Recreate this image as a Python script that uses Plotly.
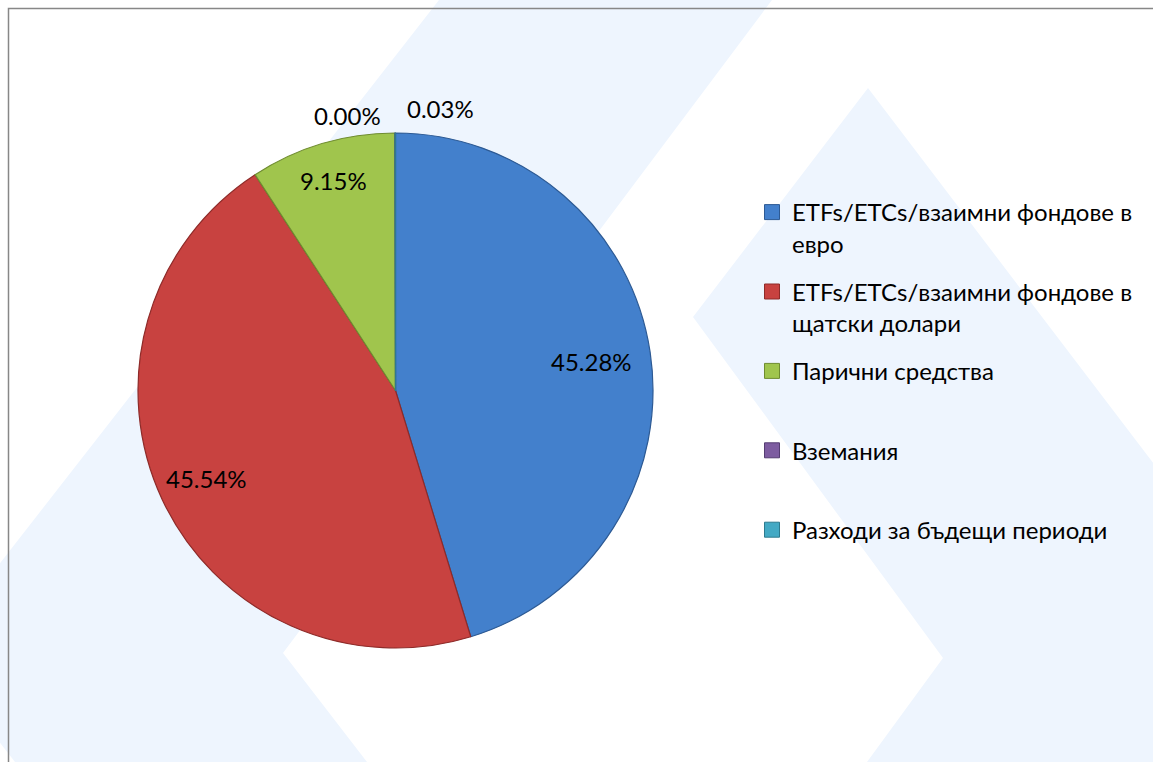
import math
import plotly.graph_objects as go

W, H = 1153, 762

# ---- data ----
categories = [
    "ETFs/ETCs/взаимни фондове в<br>евро",
    "ETFs/ETCs/взаимни фондове в<br>щатски долари",
    "Парични средства<br>&nbsp;",
    "Вземания<br>&nbsp;",
    "Разходи за бъдещи периоди<br>&nbsp;",
]
values = [45.28, 45.54, 9.15, 0.001, 0.03]  # percent of assets (Вземания ~0.00%)

# ---- style ----
colors = ["#4380CC", "#C84240", "#A0C54D", "#7D5CA0", "#43A9C4"]
line_colors = ["#2D5A94", "#8E2B29", "#6F8C30", "#553D72", "#2D7A8E"]
label_radius = [0.77, 0.81, 0.85, None, None]          # inside labels (fraction of radius)
outside_offset = {3: (-12, -18, "right"), 4: (10, -25, "left")}  # px offsets for tiny slices

FONT = "Lato"
FS = 24

# pie geometry in pixels
PX0, PX1, PY0, PY1 = 138, 653, 133, 648
cx, cy = (PX0 + PX1) / 2, (PY0 + PY1) / 2
R = (PX1 - PX0) / 2


def fx(px):
    return px / W


def fy(py):
    return 1 - py / H


fig = go.Figure()

fig.add_trace(go.Pie(
    labels=categories,
    values=values,
    sort=False,
    direction="clockwise",
    rotation=0,
    marker=dict(colors=colors, line=dict(color=line_colors, width=1.2)),
    textinfo="none",
    showlegend=False,
    hoverinfo="label+percent",
    domain=dict(x=[fx(PX0), fx(PX1)], y=[fy(PY1), fy(PY0)]),
))

# data labels, placed from the slice angles
total = sum(values)
cum = 0.0
annotations = []
for i, v in enumerate(values):
    mid = (cum + v / 2) / total * 2 * math.pi
    cum += v
    txt = f"{v / total * 100:.2f}%"
    if label_radius[i] is not None:
        k = label_radius[i]
        x = cx + k * R * math.sin(mid)
        y = cy - k * R * math.cos(mid)
        annotations.append(dict(x=fx(x), y=fy(y), xref="paper", yref="paper",
                                text=txt, showarrow=False, xanchor="center", yanchor="middle",
                                font=dict(family=FONT, size=FS, color="#000000")))
    else:
        dx, dy, anc = outside_offset[i]
        x = cx + R * math.sin(mid) + dx
        y = cy - R * math.cos(mid) + dy
        annotations.append(dict(x=fx(x), y=fy(y), xref="paper", yref="paper",
                                text=txt, showarrow=False, xanchor=anc, yanchor="middle",
                                font=dict(family=FONT, size=FS, color="#000000")))

# legend entries (one per category, square swatches)
for i, (name, c) in enumerate(zip(categories, colors)):
    fig.add_trace(go.Scatter(
        x=[None], y=[None], mode="markers", name=name,
        marker=dict(symbol="square", size=15, color=c,
                    line=dict(color=line_colors[i], width=1)),
        legendgroup=f"g{i}", showlegend=True, hoverinfo="skip",
    ))


# background watermark shapes and border
def path(pts):
    return "M " + " L ".join(f"{fx(x)},{fy(y)}" for x, y in pts) + " Z"


wm = "#EEF5FE"
shapes = [
    dict(type="path", xref="paper", yref="paper", layer="below",
         path=path([(439, 0), (772, 0), (283, 653), (367, 762), (15, 762), (-70, 653)]),
         fillcolor=wm, line=dict(width=0)),
    dict(type="path", xref="paper", yref="paper", layer="below",
         path=path([(868, 88), (1160, 472), (1160, 770), (867, 762), (943, 658), (693, 317)]),
         fillcolor=wm, line=dict(width=0)),
    dict(type="rect", xref="paper", yref="paper", layer="above",
         x0=fx(8.5), y0=fy(800), x1=fx(1200), y1=fy(8.5),
         line=dict(color="#878787", width=1.5), fillcolor="rgba(0,0,0,0)"),
]

fig.update_layout(
    width=W, height=H,
    margin=dict(l=0, r=0, t=0, b=0),
    paper_bgcolor="white", plot_bgcolor="rgba(0,0,0,0)",
    font=dict(family=FONT, size=FS, color="#000000"),
    xaxis=dict(visible=False), yaxis=dict(visible=False),
    showlegend=True,
    legend=dict(
        x=fx(752), y=fy(190), xanchor="left", yanchor="top",
        bgcolor="rgba(0,0,0,0)", valign="top",
        tracegroupgap=14, font=dict(family=FONT, size=FS, color="#000000"),
    ),
    shapes=shapes,
    annotations=annotations,
)

fig.write_html("out.html", config={"displayModeBar": False},
               post_script="document.body.style.margin='0';")
